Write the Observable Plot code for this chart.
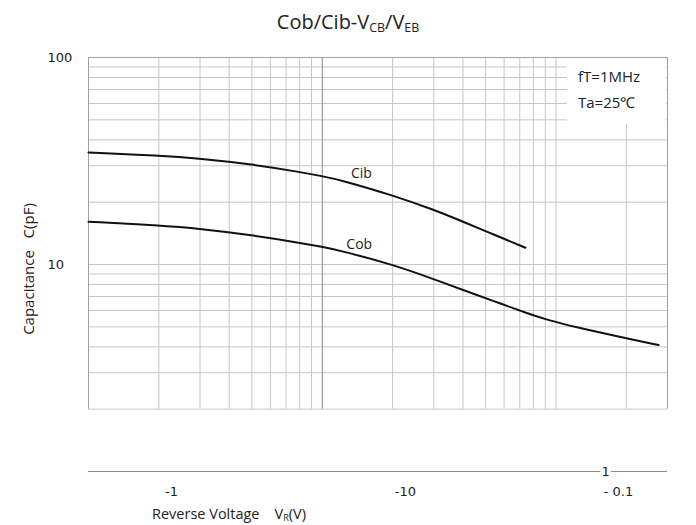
<!DOCTYPE html>
<html>
<head>
<meta charset="utf-8">
<script src="https://cdn.jsdelivr.net/npm/d3@7"></script>
<script src="https://cdn.jsdelivr.net/npm/@observablehq/plot@0.6"></script>
<style>
  html, body { margin: 0; padding: 0; background: #fff; }
  #wrap { position: relative; width: 696px; height: 525px; overflow: hidden; background: #fff; }
  #title { height: 40px; width: 696px; text-align: center; font-family: "Open Sans", sans-serif; font-size: 20px; color: #222; line-height: 40px; padding-top: 2px; box-sizing: border-box; }
  #title sub, .xlab sub { font-size: 0.62em; vertical-align: -0.25em; line-height: 0; }
  .ylab { position: absolute; left: 28px; top: 269px; transform: translate(-50%, -50%) rotate(-90deg); font-family: "Open Sans", sans-serif; font-size: 15px; color: #222; white-space: nowrap; }
  .xlab { position: absolute; left: 229px; top: 514px; transform: translate(-50%, -50%); font-family: "Open Sans", sans-serif; font-size: 14.5px; color: #222; white-space: nowrap; line-height: 18px; }
  .note { position: absolute; left: 567px; top: 58px; width: 99px; height: 66px; background: #fff; font-family: "Open Sans", sans-serif; font-size: 15px; color: #222; line-height: 26px; padding: 5px 0 0 11px; box-sizing: border-box; }
</style>
</head>
<body>
<div id="wrap">
  <div id="title">Cob/Cib-V<sub>CB</sub>/V<sub>EB</sub></div>
  <div id="chart"></div>
  <div class="ylab">Capacitance&nbsp;&nbsp;&nbsp;C(pF)</div>
  <div class="xlab">Reverse Voltage&nbsp;&nbsp;&nbsp;&nbsp;V<sub>R</sub>(V)</div>
  <div class="note">fT=1MHz<br>Ta=25℃</div>
</div>
<script>
// Cib curve (reverse voltage magnitude in V, capacitance in pF)
const cibV = [0.1, 0.2, 0.3, 0.5, 0.8, 1, 1.2, 2, 3, 4, 5, 6, 7.4];
const cibC = [34.8, 33.6, 32.5, 30.5, 28.0, 26.7, 25.6, 21.6, 18.4, 16.1, 14.5, 13.3, 12.05];
// Cob curve
const cobV = [0.1, 0.2, 0.3, 0.5, 0.8, 1, 1.2, 2, 3, 4.6, 5.65, 7.4, 9.2, 11.9, 20, 27.5];
const cobC = [16.1, 15.44, 14.89, 13.86, 12.74, 12.16, 11.66, 10.0, 8.5, 7.1, 6.55, 5.85, 5.4, 5.0, 4.4, 4.08];
// curve labels
const curveNames = ["Cib", "Cob"];
const curveLabelV = [1.47, 1.44];
const curveLabelC = [27.5, 12.5];
// grid values
const xGrid = [0.2, 0.3, 0.4, 0.5, 0.6, 0.7, 0.8, 0.9, 2, 3, 4, 5, 6, 7, 8, 9, 10, 20];
const xMajor = [1];
const yGrid = [2, 3, 4, 5, 6, 7, 8, 9, 10, 20, 30, 40, 50, 60, 70, 80, 90];
// tick labels as printed in the reference
const xTickValues = [0.2265, 2.27, 18.5];
const xTickLabels = ["-1", "-10", "- 0.1"];
const yTickValues = [10, 100];
const yTickLabels = ["10", "100"];
const yLowTick = [1];
const yLowLabel = ["1"];

const cib = cibV.map((v, i) => ({v, c: cibC[i]}));
const cob = cobV.map((v, i) => ({v, c: cobC[i]}));
const curveLabels = curveNames.map((name, i) => ({name, v: curveLabelV[i], c: curveLabelC[i]}));
const xLabelMap = new Map(xTickValues.map((d, i) => [d, xTickLabels[i]]));
const yLabelMap = new Map(yTickValues.map((d, i) => [d, yTickLabels[i]]));

const plot = Plot.plot({
  width: 696,
  height: 485,
  marginTop: 17,
  marginBottom: 54,
  marginLeft: 88,
  marginRight: 29,
  x: {type: "log", domain: [0.1, 30]},
  y: {type: "log", domain: [1, 100]},
  style: {fontFamily: "DejaVu Sans, sans-serif", fontSize: "13px", color: "#222", background: "white", overflow: "visible"},
  marks: [
    Plot.ruleY(yGrid, {stroke: "#c6c6c6", strokeWidth: 1}),
    Plot.ruleX(xGrid, {y1: 2, y2: 100, stroke: "#c6c6c6", strokeWidth: 1}),
    Plot.ruleX(xMajor, {y1: 2, y2: 100, stroke: "#8a8a8a", strokeWidth: 1}),
    Plot.ruleX([0.1, 30], {y1: 2, y2: 100, stroke: "#a0a0a0", strokeWidth: 1}),
    Plot.ruleY([100], {stroke: "#a0a0a0", strokeWidth: 1}),
    Plot.ruleY([1], {stroke: "#8a8a8a", strokeWidth: 1}),
    Plot.line(cib, {x: "v", y: "c", stroke: "#111", strokeWidth: 2, curve: "basis"}),
    Plot.line(cob, {x: "v", y: "c", stroke: "#111", strokeWidth: 2, curve: "basis"}),
    Plot.text(curveLabels, {x: "v", y: "c", text: "name", fontFamily: "Open Sans, sans-serif", fontSize: 14, fill: "#222"}),
    Plot.axisX(xTickValues, {tickSize: 0, tickPadding: 15, tickFormat: d => xLabelMap.get(d), label: null, fontSize: 13}),
    Plot.axisY(yTickValues, {tickSize: 0, tickPadding: 0, textAnchor: "start", dx: -41, tickFormat: d => yLabelMap.get(d), label: null, fontSize: 13}),
    Plot.axisY(yLowTick, {tickSize: 0, tickPadding: 0, textAnchor: "start", dx: 513, tickFormat: () => yLowLabel[0], label: null, fontSize: 13, textStroke: "white", textStrokeWidth: 8})
  ]
});
document.getElementById("chart").appendChild(plot);
</script>
</body>
</html>
